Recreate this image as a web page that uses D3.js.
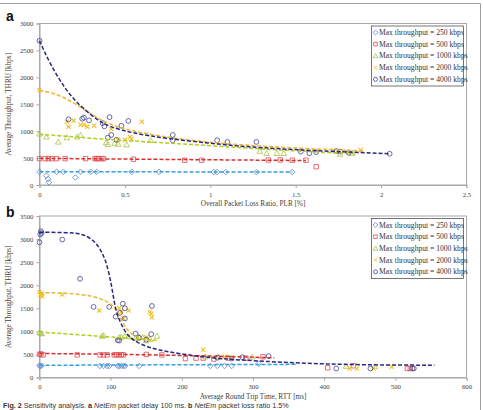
<!DOCTYPE html>
<html>
<head>
<meta charset="utf-8">
<script src="https://cdn.jsdelivr.net/npm/d3@7"></script>
<style>
  body { margin: 0; background: #fff; }
  svg text { font-family: "Liberation Serif", "Times New Roman", serif; }
</style>
</head>
<body>
<div id="chart"></div>
<script>
// ---- data: panel a (PLR %, kbps) ----
const seriesKeys = ['250', '500', '1000', '2000', '4000'];
const legendLabels = seriesKeys.map(k => `Max throughput = ${k} kbps`);

const a250 = [[0,245],[0.04,175],[0.05,110],[0.055,50],[0.1,245],[0.14,245],[0.21,140],[0.24,245],[0.3,245],[0.335,245],[0.54,245],[0.7,245],[1.02,240],[1.04,240],[1.09,240],[1.27,238],[1.48,240]];
const a500 = [[0,490],[0.033,490],[0.052,490],[0.072,490],[0.1,490],[0.15,490],[0.27,490],[0.325,490],[0.335,490],[0.345,490],[0.365,490],[0.375,490],[0.55,480],[0.85,460],[0.95,460],[1.34,465],[1.41,465],[1.48,460],[1.56,460],[1.62,340]];
const a1000 = [[0,950],[0.04,895],[0.11,800],[0.16,880],[0.22,895],[0.24,925],[0.39,790],[0.4,755],[0.44,780],[0.46,760],[0.51,750],[0.65,830],[1.29,630],[1.33,590],[1.39,590],[1.43,590],[1.76,575],[1.83,590]];
const a2000 = [[0,1760],[0.16,1175],[0.17,1080],[0.2,1200],[0.24,1120],[0.26,1120],[0.28,1080],[0.32,1100],[0.42,1040],[0.46,840],[0.5,840],[0.53,890],[0.54,860],[0.6,1175],[1.72,640],[1.8,620],[1.88,650]];
const a4000 = [[0,2680],[0.17,1220],[0.25,1230],[0.26,1250],[0.29,1200],[0.37,1150],[0.38,1090],[0.4,880],[0.41,1260],[0.42,930],[0.45,840],[0.48,1100],[0.52,1190],[0.78,930],[0.78,830],[1.04,830],[1.1,800],[1.27,800],[1.53,620],[1.58,590],[1.62,610],[1.74,630],[1.76,620],[1.81,600],[2.05,580]];

const a250Trend = [[0,248],[1.48,240]];
const a500Trend = [[0,495],[0.5,482],[1.0,468],[1.56,455]];
const a1000Trend = [[0,945],[0.25,880],[0.5,825],[0.8,770],[1.2,690],[1.5,630],[1.85,580]];
const a2000Trend = [[0,1760],[0.08,1710],[0.16,1600],[0.24,1450],[0.31,1300],[0.4,1130],[0.6,950],[1.0,780],[1.4,700],[1.9,630]];
const a4000Trend = [[0,2680],[0.06,2260],[0.14,1830],[0.22,1515],[0.34,1200],[0.41,1080],[0.55,960],[0.74,865],[1.0,775],[1.2,710],[1.58,640],[2.05,580]];

// ---- data: panel b (RTT ms, kbps) ----
const b250 = [[0,260],[1,250],[3,255],[85,250],[90,250],[95,250],[98,250],[110,250],[112,250],[115,250],[118,250],[120,250],[140,250],[240,250],[250,250],[260,250],[270,250],[308,300]];
const b500 = [[0,500],[2,510],[5,490],[53,490],[85,490],[90,490],[95,490],[105,490],[108,490],[112,490],[115,490],[118,490],[150,500],[172,490],[205,410],[220,420],[230,420],[245,400],[265,420],[290,420],[314,449],[405,210],[441,254],[517,196],[521,196]];
const b1000 = [[0,980],[2,960],[3,950],[88,900],[90,910],[112,870],[115,880],[120,900],[125,890],[135,850],[140,880],[145,870],[150,800],[155,840],[165,900],[233,450],[252,450],[299,449],[431,246],[471,240]];
const b2000 = [[0,1850],[1,1800],[2,1780],[3,1820],[4,1760],[32,1800],[84,1450],[112,1500],[115,1420],[118,1280],[125,1450],[155,1420],[157,1380],[158,1300],[150,870],[230,600],[260,450],[270,430],[436,196],[446,196],[469,196],[495,232]];
const b4000 = [[0,2930],[1,3100],[2,3170],[3,3130],[32,2990],[57,2140],[76,1530],[98,1530],[107,1320],[110,810],[112,800],[113,1400],[117,1600],[120,1500],[120,1280],[135,950],[140,860],[150,820],[157,940],[158,1550],[250,430],[270,410],[285,440],[322,464],[417,196],[465,196],[524,196],[526,196]];

const b250Trend = [[0,265],[360,285]];
const b500Trend = [[0,520],[100,505],[200,480],[280,450],[330,425]];
const b1000Trend = [[0,985],[85,895],[130,845],[165,810]];
const b2000Trend = [[0,1840],[40,1830],[76,1770],[95,1650],[106,1530],[113,1330],[121,1050],[135,870],[160,780]];
const b4000Trend = [[0,3150],[40,3140],[61,3120],[79,2950],[91,2630],[98,2260],[103,1830],[107,1460],[112,1250],[121,960],[131,810],[154,630],[200,505],[247,415],[283,380],[327,340],[398,290],[493,268],[555,268]];

const aXTicks = [0, 0.5, 1, 1.5, 2, 2.5];
const aYTicks = [0, 500, 1000, 1500, 2000, 2500, 3000];
const bXTicks = [0, 100, 200, 300, 400, 500, 600];
const bYTicks = [0, 500, 1000, 1500, 2000, 2500, 3000, 3500];

const markerColor = { '250': '#5a86c6', '500': '#e04a50', '1000': '#a8c447', '2000': '#f0c020', '4000': '#43428f' };
const lineColor   = { '250': '#339fdb', '500': '#d8302f', '1000': '#b8cb1c', '2000': '#f0b530', '4000': '#28287e' };
const markerShape = { '250': 'diamond', '500': 'square', '1000': 'triangle', '2000': 'x', '4000': 'circle' };

const W = 483, H = 410;
const svg = d3.select('#chart').append('svg')
  .attr('width', W)
  .attr('height', H);

// outer figure frame (top + right)
svg.append('line').attr('x1', 0).attr('x2', 480.5).attr('y1', 3.5).attr('y2', 3.5)
  .attr('stroke', '#a0a0a0').attr('stroke-width', 1);
svg.append('line').attr('x1', 480.5).attr('x2', 480.5).attr('y1', 3.5).attr('y2', H)
  .attr('stroke', '#a0a0a0').attr('stroke-width', 1);

function markerPath(shape, s) {
  const h = s / 2;
  switch (shape) {
    case 'diamond':  return `M0,${-h-0.6}L${h+0.6},0L0,${h+0.6}L${-h-0.6},0Z`;
    case 'square':   return `M${-h},${-h}H${h}V${h}H${-h}Z`;
    case 'triangle': return `M0,${-h-0.6}L${h+0.6},${h}L${-h-0.6},${h}Z`;
    case 'x':        return `M${-h},${-h}L${h},${h}M${-h},${h}L${h},${-h}`;
    default:         return d3.arc()({ innerRadius: 0, outerRadius: h + 0.2, startAngle: 0, endAngle: 2 * Math.PI });
  }
}

function drawPanel(cfg) {
  const x = d3.scaleLinear().domain(cfg.xDomain).range([cfg.left, cfg.right]);
  const y = d3.scaleLinear().domain(cfg.yDomain).range([cfg.bottom, cfg.top]);
  const g = svg.append('g');

  // plot frame
  g.append('rect')
    .attr('x', cfg.left).attr('y', cfg.top)
    .attr('width', cfg.right - cfg.left).attr('height', cfg.bottom - cfg.top)
    .attr('fill', 'none').attr('stroke', '#a8a8a8').attr('stroke-width', 1);

  const yAxis = g.append('g')
    .attr('transform', `translate(${cfg.left},0)`)
    .call(d3.axisLeft(y).tickValues(cfg.yTicks).tickSize(3).tickPadding(3).tickFormat(d3.format('d')));
  const xAxis = g.append('g')
    .attr('transform', `translate(0,${cfg.bottom})`)
    .call(d3.axisBottom(x).tickValues(cfg.xTicks).tickSize(3).tickPadding(4).tickFormat(d => String(d)));
  [xAxis, yAxis].forEach(ax => {
    ax.select('.domain').attr('stroke', '#a8a8a8');
    ax.selectAll('.tick line').attr('stroke', '#a8a8a8');
    ax.selectAll('.tick text')
      .attr('fill', '#404040')
      .style('font-family', '"Liberation Serif", serif')
      .style('font-size', '6.8px');
  });

  // axis titles
  g.append('text')
    .attr('x', (cfg.left + cfg.right) / 2)
    .attr('y', cfg.bottom + 21)
    .attr('text-anchor', 'middle')
    .attr('fill', '#404040')
    .style('font-size', '7.2px')
    .text(cfg.xTitle);
  g.append('text')
    .attr('transform', 'rotate(-90)')
    .attr('x', -(cfg.top + cfg.bottom) / 2)
    .attr('y', 11)
    .attr('text-anchor', 'middle')
    .attr('fill', '#404040')
    .style('font-size', '7.2px')
    .text('Average Throughput, THRU [kbps]');

  // panel letter
  g.append('text')
    .attr('x', 6)
    .attr('y', cfg.labelY)
    .style('font-family', '"Liberation Sans", Arial, sans-serif')
    .style('font-weight', 'bold')
    .style('font-size', '14px')
    .attr('fill', '#111')
    .text(cfg.letter);

  // scatter markers
  seriesKeys.forEach(k => {
    const shape = markerShape[k];
    g.append('g').selectAll('path')
      .data(cfg.points[k])
      .enter().append('path')
      .attr('transform', d => `translate(${x(d[0])},${y(d[1])})`)
      .attr('d', markerPath(shape, shape === 'x' ? 4.2 : 4.4))
      .attr('fill', 'none')
      .attr('stroke', markerColor[k])
      .attr('stroke-width', shape === 'x' ? 1.1 : 0.8);
  });

  // dashed trend lines
  const line = d3.line()
    .curve(d3.curveBasis)
    .x(d => x(d[0]))
    .y(d => y(d[1]));
  seriesKeys.forEach(k => {
    g.append('path')
      .attr('d', line(cfg.trends[k]))
      .attr('fill', 'none')
      .attr('stroke', lineColor[k])
      .attr('stroke-width', 1.5)
      .attr('stroke-dasharray', '4,2');
  });

  // legend
  const lx = 371.5, ly = cfg.top + 2.5, lw = 92, lh = 60;
  const lg = g.append('g');
  lg.append('rect')
    .attr('x', lx).attr('y', ly).attr('width', lw).attr('height', lh)
    .attr('fill', '#fff').attr('stroke', '#555').attr('stroke-width', 0.8);
  seriesKeys.forEach((k, i) => {
    const cy = ly + 6.5 + i * 11.7;
    const shape = markerShape[k];
    lg.append('path')
      .attr('transform', `translate(${lx + 4},${cy})`)
      .attr('d', markerPath(shape, 3.6))
      .attr('fill', 'none')
      .attr('stroke', markerColor[k])
      .attr('stroke-width', 0.8);
    lg.append('text')
      .attr('x', lx + 7.5)
      .attr('y', cy + 2.5)
      .attr('fill', '#333')
      .style('font-size', '7.6px')
      .text(legendLabels[i]);
  });
}

drawPanel({
  letter: 'a', labelY: 20.5,
  left: 39.5, right: 466.5, top: 23.5, bottom: 185,
  xDomain: [0, 2.5], yDomain: [0, 3000],
  xTicks: aXTicks, yTicks: aYTicks,
  xTitle: 'Overall Packet Loss Ratio, PLR [%]',
  points: { '250': a250, '500': a500, '1000': a1000, '2000': a2000, '4000': a4000 },
  trends: { '250': a250Trend, '500': a500Trend, '1000': a1000Trend, '2000': a2000Trend, '4000': a4000Trend }
});

drawPanel({
  letter: 'b', labelY: 216.5,
  left: 39.5, right: 466.5, top: 216, bottom: 377.5,
  xDomain: [0, 600], yDomain: [0, 3500],
  xTicks: bXTicks, yTicks: bYTicks,
  xTitle: 'Average Round Trip Time, RTT [ms]',
  points: { '250': b250, '500': b500, '1000': b1000, '2000': b2000, '4000': b4000 },
  trends: { '250': b250Trend, '500': b500Trend, '1000': b1000Trend, '2000': b2000Trend, '4000': b4000Trend }
});

// caption
const cap = svg.append('text')
  .attr('x', 3)
  .attr('y', 407.5)
  .attr('fill', '#333')
  .style('font-family', '"Liberation Sans", Arial, sans-serif')
  .style('font-size', '7.2px');
cap.append('tspan').style('font-weight', 'bold').text('Fig. 2');
cap.append('tspan').text(' Sensitivity analysis. ');
cap.append('tspan').style('font-weight', 'bold').text('a');
cap.append('tspan').text(' ');
cap.append('tspan').style('font-style', 'italic').text('NetEm');
cap.append('tspan').text(' packet delay 100 ms. ');
cap.append('tspan').style('font-weight', 'bold').text('b');
cap.append('tspan').text(' ');
cap.append('tspan').style('font-style', 'italic').text('NetEm');
cap.append('tspan').text(' packet loss ratio 1.5%');
</script>
</body>
</html>
